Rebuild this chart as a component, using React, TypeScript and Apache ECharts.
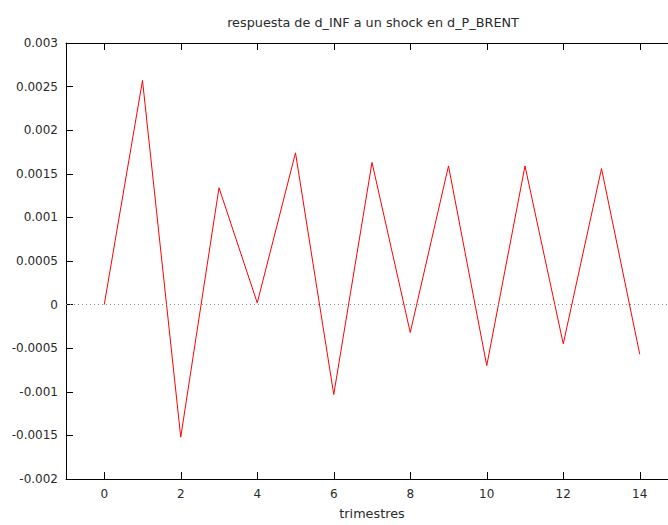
import React, { useEffect, useRef } from "react";
import * as echarts from "echarts";

const titleText = "respuesta de d_INF a un shock en d_P_BRENT";
const xAxisName = "trimestres";
const quarters = [0, 1, 2, 3, 4, 5, 6, 7, 8, 9, 10, 11, 12, 13, 14];
const response = [
  0, 0.00257, -0.00152, 0.00134, 0.00002, 0.00174, -0.00103, 0.00163, -0.00032,
  0.00159, -0.0007, 0.00159, -0.00045, 0.00156, -0.00057,
];
const xTicks = [0, 2, 4, 6, 8, 10, 12, 14];

const FONT = "DejaVu Sans";
const TEXT = "#2a2a2a";

export default function App() {
  const ref = useRef<HTMLDivElement>(null);
  useEffect(() => {
    document.body.style.margin = "0";
    const chart = echarts.init(ref.current!, null, { renderer: "svg" });
    const fmt = (v: number) => String(parseFloat(v.toPrecision(6)));
    const tickCommon = {
      show: true,
      inside: true,
      length: 7,
      lineStyle: { color: "#000", width: 1 },
    };
    chart.setOption({
      animation: false,
      backgroundColor: "#fff",
      grid: { left: 66, top: 43, right: 22, bottom: 41, containLabel: false },
      graphic: [
        {
          type: "text",
          x: 373,
          y: 22,
          style: {
            text: titleText,
            fontFamily: FONT,
            fontSize: 12.8,
            fill: TEXT,
            textAlign: "center",
            textVerticalAlign: "middle",
          },
        },
      ],
      xAxis: [
        {
          type: "value",
          min: -1,
          max: 15,
          position: "bottom",
          name: xAxisName,
          nameLocation: "middle",
          nameGap: 28,
          nameTextStyle: { fontFamily: FONT, fontSize: 12.8, color: TEXT },
          axisLine: { show: true, onZero: false, lineStyle: { color: "#000", width: 1 } },
          axisTick: { ...tickCommon, customValues: xTicks },
          axisLabel: {
            customValues: xTicks,
            fontFamily: FONT,
            fontSize: 12,
            color: TEXT,
            margin: 9,
          },
          splitLine: { show: false },
        },
        {
          type: "value",
          min: -1,
          max: 15,
          position: "top",
          axisLine: { show: true, onZero: false, lineStyle: { color: "#000", width: 1 } },
          axisTick: { ...tickCommon, customValues: xTicks },
          axisLabel: { show: false },
          splitLine: { show: false },
        },
      ],
      yAxis: [
        {
          type: "value",
          min: -0.002,
          max: 0.003,
          interval: 0.0005,
          position: "left",
          axisLine: { show: true, onZero: false, lineStyle: { color: "#000", width: 1 } },
          axisTick: tickCommon,
          axisLabel: {
            formatter: fmt,
            fontFamily: FONT,
            fontSize: 12,
            color: TEXT,
            margin: 8,
          },
          splitLine: { show: false },
        },
        {
          type: "value",
          min: -0.002,
          max: 0.003,
          interval: 0.0005,
          position: "right",
          axisLine: { show: true, onZero: false, lineStyle: { color: "#000", width: 1 } },
          axisTick: tickCommon,
          axisLabel: { show: false },
          splitLine: { show: false },
        },
      ],
      series: [
        {
          type: "line",
          xAxisIndex: 0,
          yAxisIndex: 0,
          data: quarters.map((q, i) => [q, response[i]]),
          showSymbol: false,
          symbol: "none",
          lineStyle: { color: "#ff0000", width: 1 },
          itemStyle: { color: "#ff0000" },
          markLine: {
            silent: true,
            symbol: ["none", "none"],
            label: { show: false },
            lineStyle: { color: "#888", type: [1, 3], width: 1 },
            data: [{ yAxis: 0 }],
          },
          z: 3,
        },
      ],
    });
    return () => chart.dispose();
  }, []);
  return (
    <div
      style={{
        position: "fixed",
        left: 0,
        top: 0,
        width: 668,
        height: 525,
        overflow: "hidden",
        background: "#fff",
      }}
    >
      <div ref={ref} style={{ width: 700, height: 525 }} />
    </div>
  );
}
